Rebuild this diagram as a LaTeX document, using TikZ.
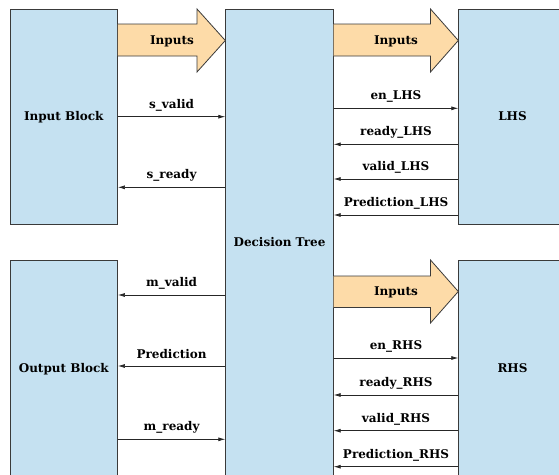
\documentclass[tikz,border=0pt]{standalone}
\usepackage{fontspec}
\setmainfont{DejaVu Serif}
\usetikzlibrary{arrows.meta}
\definecolor{boxblue}{HTML}{C5E1F1}
\definecolor{boxline}{HTML}{3A3A3A}
\definecolor{arrfill}{HTML}{FDDBA8}
\tikzset{
  blk/.style={draw=boxline, line width=0.9pt, fill=boxblue, rectangle, inner sep=0pt, text height=8.5pt, text depth=0pt, font=\bfseries\fontsize{12}{14}\selectfont},
  sig/.style={draw=black!85, line width=0.7pt, -{Latex[length=7pt,width=4pt]}},
  lbl/.style={font=\bfseries\fontsize{12}{14}\selectfont, inner sep=0pt, yshift=11.5pt},
  bigarr/.style={draw=boxline, line width=0.8pt, fill=arrfill},
  arrtxt/.style={font=\bfseries\fontsize{12}{14}\selectfont, inner sep=0pt}
}
\begin{document}
\begin{tikzpicture}[x=1pt,y=-1pt]
\useasboundingbox (0,0) rectangle (559,474);
\begin{scope}
\clip (0,0) rectangle (559,474);
% blocks
\node[blk, minimum width=107.5pt, minimum height=215pt] (ib) at (63.75,116.5) {Input Block};
\node[blk, minimum width=107.5pt, minimum height=467pt] (dt) at (279.5,242.5) {Decision Tree};
\node[blk, minimum width=107.5pt, minimum height=215pt] (lhs) at (512.5,116.5) {LHS};
\node[blk, minimum width=107.5pt, minimum height=216pt] (ob) at (63.75,368) {Output Block};
\node[blk, minimum width=107.5pt, minimum height=216pt] (rhs) at (512.5,368.5) {RHS};
% big input arrows
\draw[bigarr] (ib.east |- 0,24) -- (197,24) -- (197,9) -- (dt.west |- 0,40.5) -- (197,72) -- (197,56) -- (ib.east |- 0,56);
\node[arrtxt] (a1) at (172,41) {Inputs};
\draw[bigarr] (dt.east |- 0,24) -- (430.5,24) -- (430.5,9) -- (lhs.west |- 0,40.5) -- (430.5,72) -- (430.5,56) -- (dt.east |- 0,56);
\node[arrtxt] (a2) at (396,41) {Inputs};
\draw[bigarr] (dt.east |- 0,276) -- (430.5,276) -- (430.5,260) -- (rhs.west |- 0,291.5) -- (430.5,323) -- (430.5,307.5) -- (dt.east |- 0,307.5);
\node[arrtxt] (a3) at (396,292) {Inputs};
% signals: input block
\draw[sig] (ib.east |- 0,116.7) -- node[lbl] {s\_valid} (dt.west |- 0,116.7);
\draw[sig] (dt.west |- 0,187.3) -- node[lbl] {s\_ready} (ib.east |- 0,187.3);
% LHS
\draw[sig] (dt.east |- 0,108.3) -- node[lbl] {en\_LHS} (lhs.west |- 0,108.3);
\draw[sig] (lhs.west |- 0,144.3) -- node[lbl] {ready\_LHS} (dt.east |- 0,144.3);
\draw[sig] (lhs.west |- 0,179) -- node[lbl] {valid\_LHS} (dt.east |- 0,179);
\draw[sig] (lhs.west |- 0,215) -- node[lbl] {Prediction\_LHS} (dt.east |- 0,215);
% output block
\draw[sig] (dt.west |- 0,295) -- node[lbl] {m\_valid} (ob.east |- 0,295);
\draw[sig] (dt.west |- 0,366) -- node[lbl] {Prediction} (ob.east |- 0,366);
\draw[sig] (ob.east |- 0,439.3) -- node[lbl] {m\_ready} (dt.west |- 0,439.3);
% RHS
\draw[sig] (dt.east |- 0,358) -- node[lbl] {en\_RHS} (rhs.west |- 0,358);
\draw[sig] (rhs.west |- 0,395) -- node[lbl] {ready\_RHS} (dt.east |- 0,395);
\draw[sig] (rhs.west |- 0,430.7) -- node[lbl] {valid\_RHS} (dt.east |- 0,430.7);
\draw[sig] (rhs.west |- 0,466.7) -- node[lbl] {Prediction\_RHS} (dt.east |- 0,466.7);
\end{scope}
\end{tikzpicture}
\end{document}
